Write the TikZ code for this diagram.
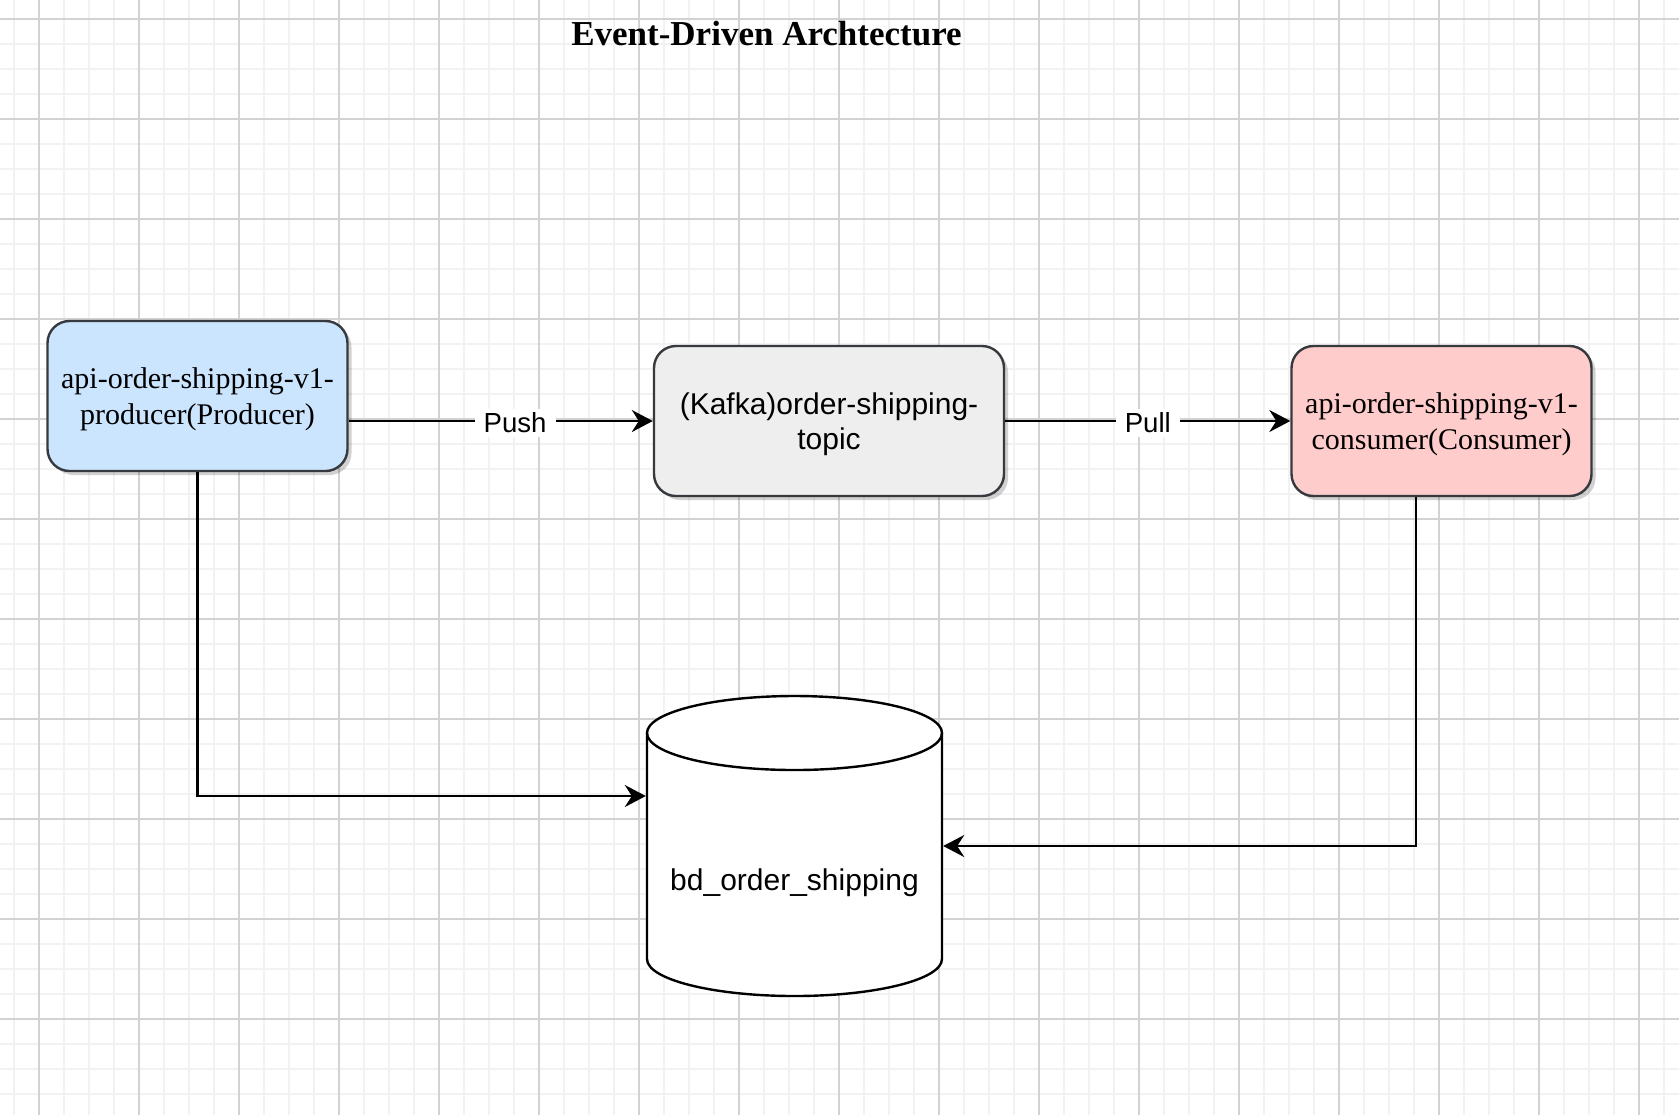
\documentclass[tikz,border=0pt]{standalone}
\usepackage{fontspec}
\setmainfont{Liberation Serif}
\newfontfamily\arialfont{Liberation Sans}
\usetikzlibrary{arrows.meta,shadows,calc}

\definecolor{prodblue}{HTML}{CCE5FF}
\definecolor{kafkagray}{HTML}{EEEEEE}
\definecolor{consred}{HTML}{FFCCCC}
\definecolor{boxline}{HTML}{36393D}
\definecolor{gridminor}{HTML}{F2F2F2}
\definecolor{gridmajor}{HTML}{D2D2D2}

\tikzset{
  svcbox/.style={draw=boxline, line width=1.2pt, rounded corners=11pt,
    minimum width=150pt, minimum height=75pt, align=center, inner sep=0pt,
    text depth=0pt,
    drop shadow={shadow xshift=2pt, shadow yshift=-2pt, fill=black, opacity=0.18}},
  serifbox/.style={svcbox, font=\fontsize{15}{18}\selectfont},
  sansbox/.style={svcbox, font=\arialfont\fontsize{15}{17.5}\selectfont},
  conn/.style={line width=1.1pt, -{Stealth[length=10.5pt,width=11pt,inset=3.5pt]}},
  edgelabel/.style={fill=white, inner xsep=4.5pt, inner ysep=2pt, yshift=-1pt,
    font=\arialfont\fontsize{13.8}{15}\selectfont},
  dbbox/.style={minimum width=147.5pt, minimum height=150pt, inner sep=0pt, outer sep=0.6pt},
}

\begin{document}
\begin{tikzpicture}[x=0.5pt,y=0.5pt]
  \useasboundingbox (0,0) rectangle (1679,-1115);
  \fill[white] (0,0) rectangle (1679,-1115);

  % Grade de fundo
  \foreach \x in {14,39,...,1664} {
    \draw[gridminor, line width=0.7pt] (\x,0) -- (\x,-1115);
  }
  \foreach \y in {19,44,...,1094} {
    \draw[gridminor, line width=0.7pt] (0,-\y) -- (1679,-\y);
  }
  \foreach \x in {39,139,...,1639} {
    \draw[gridmajor, line width=0.6pt] (\x,0) -- (\x,-1115);
  }
  \foreach \y in {19,119,...,1019} {
    \draw[gridmajor, line width=0.6pt] (0,-\y) -- (1679,-\y);
  }

  % Titulo
  \node[anchor=base, font=\bfseries\fontsize{17.5}{20}\selectfont] (title) at (766.5,-45) {Event-Driven Archtecture};

  % Servicos
  \node[serifbox, fill=prodblue] (producer) at (197.5,-396) {api-order-shipping-v1-\\producer(Producer)};
  \node[sansbox, fill=kafkagray, minimum width=175pt] (kafka) at (829,-421) {(Kafka)order-shipping-\\topic};
  \node[serifbox, fill=consred] (consumer) at (1441.5,-421) {api-order-shipping-v1-\\consumer(Consumer)};

  % Banco de dados (cilindro)
  \filldraw[fill=white, line width=1.2pt] (647,-733) -- (647,-959)
    arc[start angle=180, end angle=360, x radius=147.5, y radius=37]
    -- (942,-733)
    arc[start angle=0, end angle=180, x radius=147.5, y radius=37] -- cycle;
  \draw[line width=1.2pt] (647,-733) arc[start angle=180, end angle=360, x radius=147.5, y radius=37];
  \node[dbbox] (db) at (794.5,-846) {};
  \node[font=\arialfont\fontsize{15}{18}\selectfont] (dbname) at (794.5,-883) {bd\_order\_shipping};

  % Conexoes
  \draw[conn] (producer.east |- kafka.west) -- node[edgelabel, pos=0.547] {Push} (kafka.west);
  \draw[conn] (kafka.east) -- node[edgelabel] {Pull} (consumer.west);
  \draw[conn] (producer.south) |- ($(db.west)+(0,50)$);
  \draw[conn] ($(consumer.south)+(-25.5,0)$) |- (db.east);
\end{tikzpicture}
\end{document}
